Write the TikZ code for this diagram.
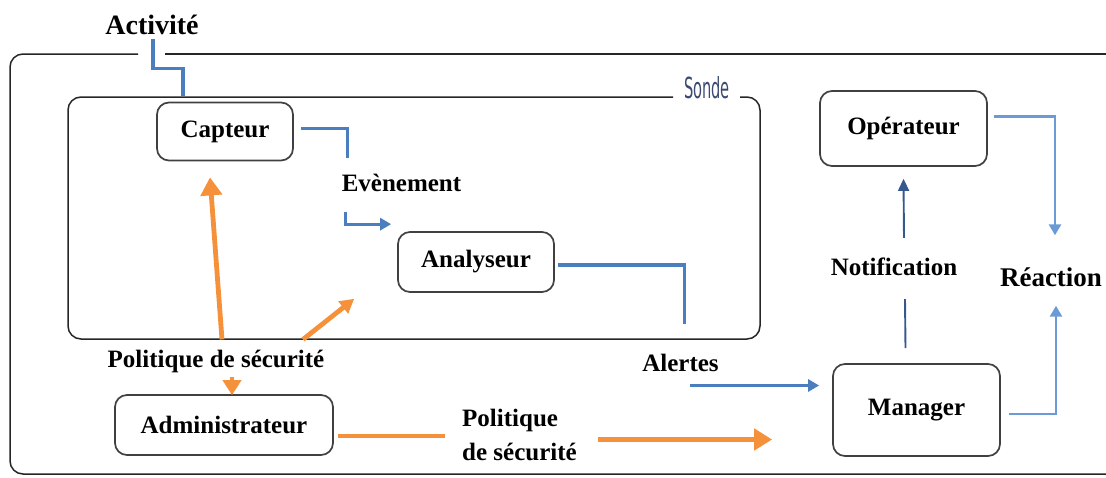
\documentclass[tikz,border=0pt]{standalone}
\usepackage{fontspec}
\setmainfont{Liberation Serif}
\newfontfamily\sondefont{DejaVu Sans Condensed}
\usetikzlibrary{arrows.meta,calc}
\definecolor{flowblue}{HTML}{4A7EBF}
\definecolor{lightflow}{HTML}{6B9BD6}
\definecolor{navyflow}{HTML}{35598F}
\definecolor{policy}{HTML}{F4913A}
\definecolor{boxgray}{HTML}{404040}
\definecolor{framegray}{HTML}{262626}
\definecolor{sondeblue}{HTML}{3B4A73}
\begin{document}
\begin{tikzpicture}[x=1pt,y=-1pt,
  box/.style={draw=boxgray, line width=1.7pt, rounded corners=12pt,
    font=\bfseries\fontsize{25}{30}\selectfont, inner sep=0pt},
  lbl/.style={font=\bfseries\fontsize{25}{30}\selectfont, inner sep=0pt},
  frame/.style={draw=framegray, line width=1.5pt, rounded corners=13pt},
  bluewire/.style={draw=flowblue, line width=3.2pt},
  lightwire/.style={draw=lightflow, line width=2.6pt},
  navywire/.style={draw=navyflow, line width=1.9pt},
  orangewire/.style={draw=policy, line width=4.8pt},
  bluetip/.style={-{Triangle[length=11pt,width=12pt]}},
  orangetip/.style={-{Triangle[length=18pt,width=21pt]}},
]
\useasboundingbox (0,0) rectangle (1106,477);

% outer frame and the probe (Sonde) frame
\begin{scope}
  \clip (0,0) rectangle (1106,477);
  \draw[frame] (138,54) -- (10,54) -- (10,474) -- (1130,474);
  \draw[frame] (165,54) -- (1130,54);
\end{scope}
\draw[frame] (673,97) -- (68,97) -- (68,339) -- (760,339) -- (760,97) -- (740,97);
\node[font=\sondefont\fontsize{29}{31}\selectfont, text=sondeblue, xscale=0.56, inner sep=0pt] (sonde) at (707,88) {Sonde};

% boxes
\node[box, minimum width=136, minimum height=58] (cap) at (225,131.5) {Capteur};
\node[box, minimum width=156, minimum height=60] (ana) at (476,262) {Analyseur};
\node[box, minimum width=167, minimum height=75] (op) at (903.5,128.5) {Opérateur};
\node[box, minimum width=167, minimum height=92] (man) at (916.5,410) {Manager};
\node[box, minimum width=218, minimum height=60] (adm) at (224,425) {Administrateur};

% labels
\node[lbl, font=\bfseries\fontsize{28}{32}\selectfont] (act) at (152,25) {Activité};
\node[lbl] (evt) at (401.5,182.5) {Evènement};
\node[lbl] (alr) at (680.5,362.5) {Alertes};
\node[lbl] (notif) at (894,267) {Notification};
\node[lbl, font=\bfseries\fontsize{27}{30}\selectfont] (rea) at (1051,277) {Réaction};
\node[lbl] (pol) at (216,361) {Politique de sécurité};
\node[lbl, align=left, font=\bfseries\fontsize{25}{34}\selectfont, anchor=west] (pol2) at (462,434.5) {Politique\\de sécurité};

% blue flows
\draw[bluewire] ($(act.south)+(1,4)$) |- ($(cap.north)+(-42,-33)$) -- ($(cap.north)+(-42,-6)$);
\draw[bluewire] ($(cap.east)+(7,-3)$) -| ($(evt.north west)+(6,-15)$);
\draw[bluewire, bluetip] ($(evt.south west)+(4,20)$) |- ($(ana.north west)+(-6,-7)$);
\draw[bluewire] ($(ana.east)+(3,3)$) -| ($(alr.north)+(4,-30)$);
\coordinate (alrOut) at ($(alr.south)+(9,14)$);
\coordinate (manIn) at ($(man.west)+(-13,0)$);
\draw[bluewire, bluetip] (alrOut) -- (manIn |- alrOut);
\draw[lightwire, bluetip] ($(man.east)+(8,4)$) -| ($(rea.south)+(5,19)$);
\draw[lightwire, bluetip] ($(op.east)+(6,-12)$) -| ($(rea.north)+(4,-32)$);
\draw[navywire] ($(man.north)+(-11,-15)$) -- ($(notif.south)+(11,23)$);
\draw[navywire, -{Triangle[length=12pt,width=11pt]}] ($(notif.north)+(10,-20)$) -- ($(op.south)+(0,12)$);

% security policy flows
\draw[orangewire, orangetip] ($(pol.north)+(6,-10)$) -- ($(cap.south)+(-15,16)$);
\draw[orangewire, -{Triangle[length=14pt,width=15pt]}] ($(pol.north)+(87,-10)$) -- ($(ana.south west)+(-43,6)$);
\draw[orangewire, -{Triangle[length=15pt,width=18pt]}] ($(adm.north)+(8,-17)$) -- ($(adm.north)+(8,1)$);
\coordinate (admOut) at ($(adm.east)+(4,11)$);
\draw[orangewire] (admOut) -- ($(pol2.west |- admOut)+(-17,0)$);
\coordinate (polOut) at ($(pol2.east)+(21,5)$);
\draw[orangewire, orangetip] (polOut) -- ($(man.west |- polOut)+(-60,0)$);
\end{tikzpicture}
\end{document}
